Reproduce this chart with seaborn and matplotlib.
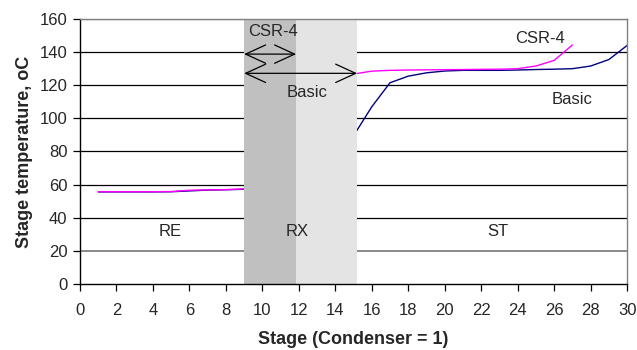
import matplotlib
matplotlib.use("Agg")

import pandas as pd
import matplotlib.pyplot as plt
import seaborn as sns

# Leituras do gráfico (estágio -> temperatura, oC)
estagios_re = [1, 2, 3, 4, 5, 6, 7, 8, 9]
basic_re = [55.6, 55.6, 55.6, 55.6, 55.7, 56.2, 56.7, 56.9, 57.2]
csr_re = [55.7, 55.7, 55.7, 55.7, 55.8, 56.6, 56.8, 57.0, 57.4]

estagios_st_basic = [15, 16, 17, 18, 19, 20, 21, 22, 23, 24, 25, 26, 27, 28, 29, 30]
basic_st = [89.5, 107.0, 121.5, 125.5, 127.5, 128.6, 129.0, 129.0, 129.0, 129.2,
            129.5, 129.7, 130.0, 131.6, 135.5, 144.0]
estagios_st_csr = [15, 16, 17, 18, 19, 20, 21, 22, 23, 24, 25, 26, 27]
csr_st = [126.8, 128.5, 129.0, 129.2, 129.3, 129.4, 129.5, 129.6, 129.7, 130.0,
          131.6, 135.0, 144.3]

# Zonas da coluna (RE, RX, ST)
zona_csr = (9.0, 11.85)
zona_basic = (11.85, 15.2)
rotulos_zonas = ["RE", "RX", "ST"]
pos_zonas = [4.95, 11.9, 22.9]

sns.set_theme(style="white")
plt.rcParams["font.family"] = ["Liberation Sans", "DejaVu Sans"]

partes = []
for caso, x, y, seg in [("Basic", estagios_re, basic_re, "b1"),
                        ("Basic", estagios_st_basic, basic_st, "b2"),
                        ("CSR-4", estagios_re, csr_re, "c1"),
                        ("CSR-4", estagios_st_csr, csr_st, "c2")]:
    partes.append(pd.DataFrame({"stage": x, "temp": y, "case": caso, "seg": seg}))
df = pd.concat(partes, ignore_index=True)

fig = plt.figure(figsize=(6.37, 3.5), dpi=100)
ax = fig.add_axes([0.1256, 0.1886, 0.8588, 0.7571])

for v in range(20, 161, 20):
    ax.axhline(v, color="black" if v not in (20, 160) else "#808080",
               lw=0.9 if v != 20 else 1.3, zorder=1)

sns.lineplot(data=df, x="stage", y="temp", hue="case", units="seg",
             estimator=None, palette={"Basic": "#000080", "CSR-4": "#ff00ff"},
             lw=1.0, legend=False, ax=ax, zorder=2)

ax.axvspan(*zona_csr, color="#c0c0c0", lw=0, zorder=3)
ax.axvspan(*zona_basic, color="#e4e4e4", lw=0, zorder=3)

seta = dict(arrowstyle="<->,head_length=1.2,head_width=0.55", color="black", lw=0.9,
            shrinkA=0, shrinkB=0, mutation_scale=12)
ax.annotate("", xy=(zona_csr[0], 138.8), xytext=(zona_csr[1], 138.8),
            arrowprops=seta, zorder=5)
ax.annotate("", xy=(zona_csr[0], 127.2), xytext=(zona_basic[1], 127.2),
            arrowprops=seta, zorder=5)

fs = 12
ax.text(9.2, 152.4, "CSR-4", fontsize=fs, va="center", ha="left", zorder=6)
ax.text(12.45, 115.5, "Basic", fontsize=fs, va="center", ha="center", zorder=6)
ax.text(25.2, 148.5, "CSR-4", fontsize=fs, va="center", ha="center", zorder=6)
ax.text(27.0, 111.5, "Basic", fontsize=fs, va="center", ha="center", zorder=6)
for rot, px in zip(rotulos_zonas, pos_zonas):
    ax.text(px, 31.5, rot, fontsize=fs, va="center", ha="center", zorder=6)

ax.set_xlim(0, 30)
ax.set_ylim(0, 160)
ax.set_xticks(range(0, 31, 2))
ax.set_yticks(range(0, 161, 20))
ax.tick_params(axis="both", labelsize=12, length=5, width=0.9, color="black",
               direction="out", bottom=True, left=True, pad=4)
ax.tick_params(axis="x", pad=9)

for lado in ["left", "bottom"]:
    ax.spines[lado].set_color("black")
    ax.spines[lado].set_linewidth(1.0)
for lado in ["top", "right"]:
    ax.spines[lado].set_color("#808080")
    ax.spines[lado].set_linewidth(1.0)
for s in ax.spines.values():
    s.set_zorder(7)

ax.set_xlabel("Stage (Condenser = 1)", fontsize=13, fontweight="bold", labelpad=9)
ax.set_ylabel("Stage temperature, oC", fontsize=13, fontweight="bold", labelpad=5)

fig.savefig("out.png", dpi=100)
plt.close(fig)
